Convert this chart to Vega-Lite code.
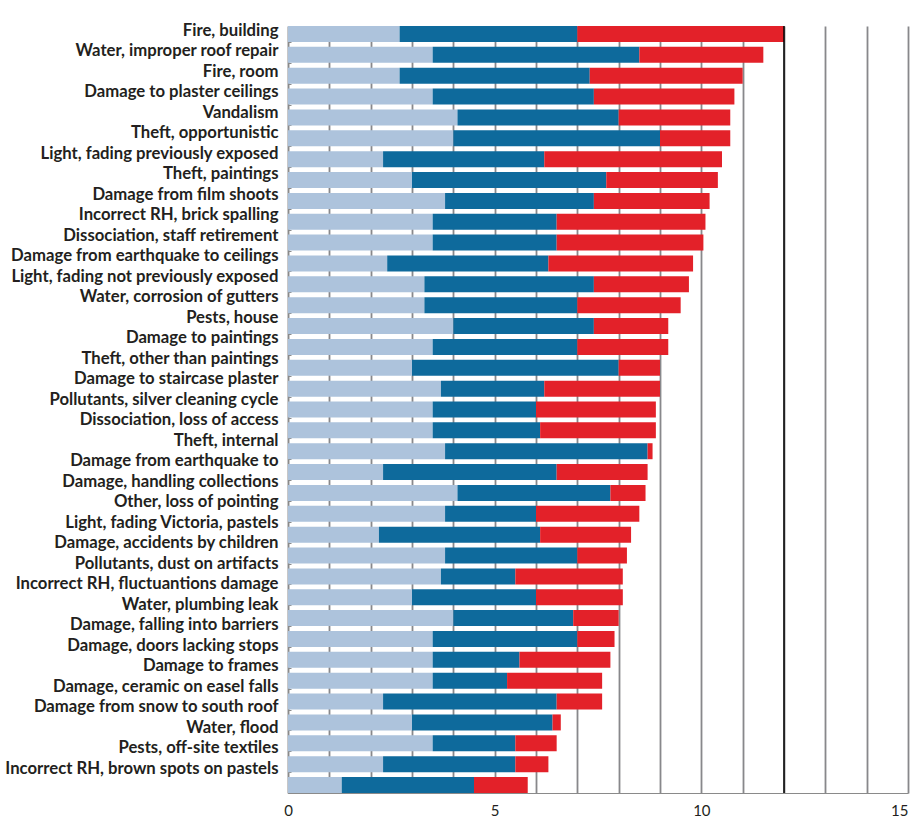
{
  "$schema": "https://vega.github.io/schema/vega-lite/v6.json",
  "autosize": "none",
  "width": 620,
  "height": 767,
  "padding": {"left": 288, "top": 26, "right": 3, "bottom": 24},
  "background": "white",
  "config": {"view": {"stroke": null}, "font": "Lato"},
  "data": {
    "values": [
      {"risk": "Fire, building", "A": 2.7, "B": 4.3, "C": 5.0},
      {"risk": "Water, improper roof repair", "A": 3.5, "B": 5.0, "C": 3.0},
      {"risk": "Fire, room", "A": 2.7, "B": 4.6, "C": 3.7},
      {"risk": "Damage to plaster ceilings", "A": 3.5, "B": 3.9, "C": 3.4},
      {"risk": "Vandalism", "A": 4.1, "B": 3.9, "C": 2.7},
      {"risk": "Theft, opportunistic", "A": 4.0, "B": 5.0, "C": 1.7},
      {"risk": "Light, fading previously exposed", "A": 2.3, "B": 3.9, "C": 4.3},
      {"risk": "Theft, paintings", "A": 3.0, "B": 4.7, "C": 2.7},
      {"risk": "Damage from film shoots", "A": 3.8, "B": 3.6, "C": 2.8},
      {"risk": "Incorrect RH, brick spalling", "A": 3.5, "B": 3.0, "C": 3.6},
      {"risk": "Dissociation, staff retirement", "A": 3.5, "B": 3.0, "C": 3.55},
      {"risk": "Damage from earthquake to ceilings", "A": 2.4, "B": 3.9, "C": 3.5},
      {"risk": "Light, fading not previously exposed", "A": 3.3, "B": 4.1, "C": 2.3},
      {"risk": "Water, corrosion of gutters", "A": 3.3, "B": 3.7, "C": 2.5},
      {"risk": "Pests, house", "A": 4.0, "B": 3.4, "C": 1.8},
      {"risk": "Damage to paintings", "A": 3.5, "B": 3.5, "C": 2.2},
      {"risk": "Theft, other than paintings", "A": 3.0, "B": 5.0, "C": 1.0},
      {"risk": "Damage to staircase plaster", "A": 3.7, "B": 2.5, "C": 2.8},
      {"risk": "Pollutants, silver cleaning cycle", "A": 3.5, "B": 2.5, "C": 2.9},
      {"risk": "Dissociation, loss of access", "A": 3.5, "B": 2.6, "C": 2.8},
      {"risk": "Theft, internal", "A": 3.8, "B": 4.9, "C": 0.12},
      {"risk": "Damage from earthquake to", "A": 2.3, "B": 4.2, "C": 2.2},
      {"risk": "Damage, handling collections", "A": 4.1, "B": 3.7, "C": 0.85},
      {"risk": "Other, loss of pointing", "A": 3.8, "B": 2.2, "C": 2.5},
      {"risk": "Light, fading  Victoria, pastels", "A": 2.2, "B": 3.9, "C": 2.2},
      {"risk": "Damage, accidents by children", "A": 3.8, "B": 3.2, "C": 1.2},
      {"risk": "Pollutants, dust on artifacts", "A": 3.7, "B": 1.8, "C": 2.6},
      {"risk": "Incorrect RH, fluctuantions damage", "A": 3.0, "B": 3.0, "C": 2.1},
      {"risk": "Water, plumbing leak", "A": 4.0, "B": 2.9, "C": 1.1},
      {"risk": "Damage, falling into barriers", "A": 3.5, "B": 3.5, "C": 0.9},
      {"risk": "Damage, doors lacking stops", "A": 3.5, "B": 2.1, "C": 2.2},
      {"risk": "Damage to frames", "A": 3.5, "B": 1.8, "C": 2.3},
      {"risk": "Damage, ceramic on easel falls", "A": 2.3, "B": 4.2, "C": 1.1},
      {"risk": "Damage from snow to south roof", "A": 3.0, "B": 3.4, "C": 0.2},
      {"risk": "Water, flood", "A": 3.5, "B": 2.0, "C": 1.0},
      {"risk": "Pests, off-site textiles", "A": 2.3, "B": 3.2, "C": 0.8},
      {"risk": "Incorrect RH, brown spots on pastels", "A": 1.3, "B": 3.2, "C": 1.3}
    ]
  },
  "layer": [
    {
      "transform": [{"fold": ["A", "B", "C"], "as": ["component", "score"]}],
      "mark": {"type": "bar"},
      "encoding": {
        "y": {
          "field": "risk", "type": "nominal", "sort": null,
          "scale": {"paddingInner": 0.233, "paddingOuter": 0},
          "axis": {"orient": "left", "labels": false, "title": null, "domain": true, "domainColor": "#8a8a8a", "domainWidth": 1.2, "ticks": true, "tickSize": -3, "tickColor": "#8a8a8a", "tickBand": "extent", "grid": false}
        },
        "x": {
          "field": "score", "type": "quantitative", "stack": "zero",
          "scale": {"domain": [0, 15], "nice": false, "zero": true},
          "axis": {
            "values": [0, 1, 2, 3, 4, 5, 6, 7, 8, 9, 10, 11, 12, 13, 14, 15],
            "labelExpr": "datum.value % 5 === 0 ? datum.label : ''",
            "grid": true, "gridColor": "#88888b", "gridWidth": 1.8,
            "ticks": false, "domain": true, "domainColor": "#8a8a8a", "domainWidth": 1.2,
            "labelFont": "Lato", "labelFontSize": 15, "labelColor": "#231f20",
            "labelPadding": 10, "labelFlush": false, "labelOverlap": false,
            "labelAlign": {"condition": {"test": "datum.value === 15", "value": "right"}, "value": "center"},
            "title": null
          }
        },
        "color": {
          "field": "component", "type": "nominal",
          "scale": {"domain": ["A", "B", "C"], "range": ["#adc3dc", "#0e6a9c", "#e32129"]},
          "legend": null
        }
      }
    },
    {
      "mark": {"type": "point", "opacity": 0},
      "encoding": {
        "y": {
          "field": "risk", "type": "nominal", "sort": null,
          "scale": {"type": "point", "padding": 0.716, "align": 0.15},
          "axis": {"orient": "left", "title": null, "domain": false, "ticks": false, "grid": false,
                   "labelFont": "Lato", "labelFontWeight": "bold", "labelFontSize": 16.7, "labelColor": "#231f20",
                   "labelPadding": 10, "labelLimit": 400}
        }
      }
    },
    {
      "data": {"values": [{"threshold": 12}]},
      "mark": {"type": "rule", "color": "#000000", "strokeWidth": 1.5},
      "encoding": {"x": {"field": "threshold", "type": "quantitative"}}
    }
  ],
  "resolve": {"scale": {"y": "independent"}, "axis": {"y": "independent"}}
}
